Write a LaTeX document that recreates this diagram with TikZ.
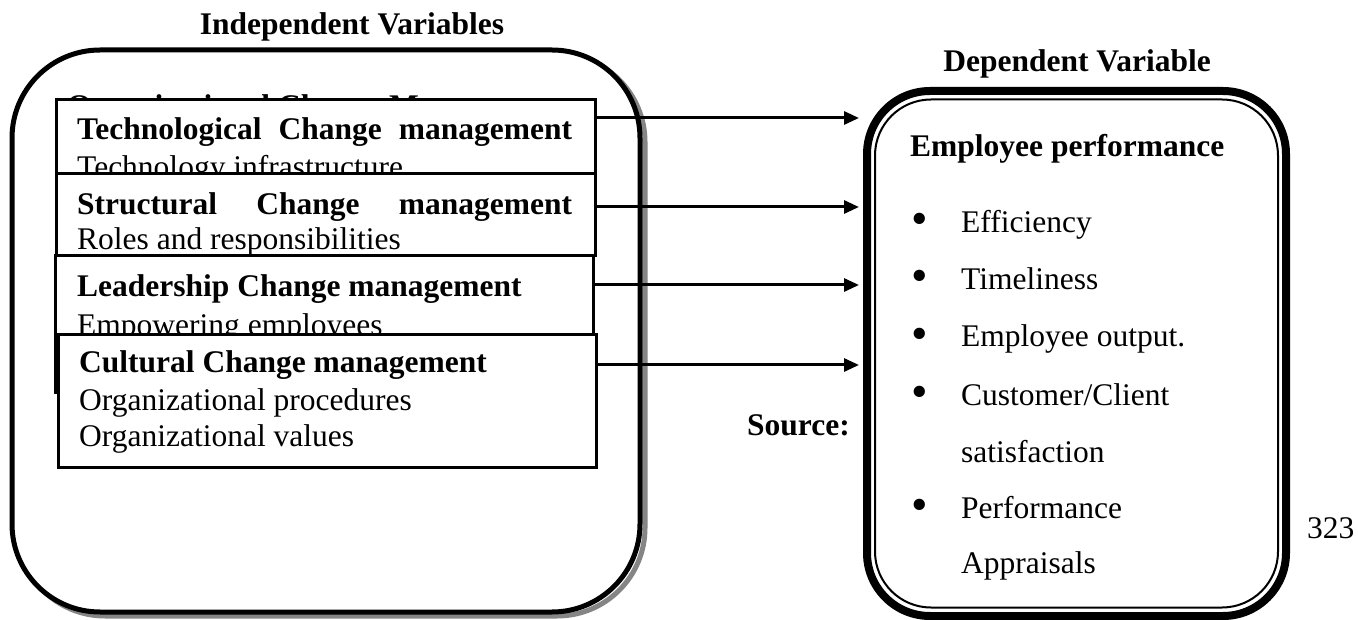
\documentclass[tikz,border=0pt]{standalone}
\usepackage{fontspec}
\setmainfont{Liberation Serif}
\usetikzlibrary{arrows.meta}
\definecolor{shadowgray}{HTML}{858585}
\begin{document}
\begin{tikzpicture}[x=1pt,y=-1pt,
  font=\fontsize{31.5}{36}\selectfont,
  bigbox/.style={line width=5pt, rounded corners=88pt, minimum width=628pt, minimum height=562pt, inner sep=0pt},
  varbox/.style={draw, fill=white, line width=3pt, inner sep=0pt},
  txt/.style={inner sep=0pt, anchor=base west},
  ttl/.style={inner sep=0pt, anchor=base, font=\fontsize{31.5}{36}\selectfont\bfseries},
  bul/.style={inner sep=0pt, anchor=base},
  link/.style={line width=3pt, -{Triangle[length=15pt,width=13pt]}, shorten >=4pt}]
\useasboundingbox (0,0) rectangle (1358,620);
\fill[white] (0,0) rectangle (1358,620);

% titles
\node[ttl] (indtitle) at (352,35) {Independent Variables};
\node[ttl] (deptitle) at (1077,72) {Dependent Variable};

% independent variables frame with shadow
\node[bigbox, draw=shadowgray] (indshadow) at (331,335) {};
\node[bigbox, draw, fill=white] (ind) at (326,331) {};

% partly hidden heading
\node[txt, font=\fontsize{31.5}{36}\selectfont\bfseries] (hidden) at (67,117) {Organizational Change Management};

% box 1
\node[varbox, minimum width=539pt, minimum height=74pt] (b1) at (325.5,137) {};
\node[txt] (b1h) at (77,140) {\makebox[495pt][s]{\bfseries Technological Change management}};
\node[txt] (b1s) at (77,178) {Technology infrastructure};

% box 2
\node[varbox, minimum width=539pt, minimum height=82pt] (b2) at (325.5,215) {};
\node[txt] (b2h) at (77,215) {\makebox[495pt][s]{\bfseries Structural Change management}};
\node[txt] (b2s) at (77,250) {Roles and responsibilities};

% box 3
\node[varbox, minimum width=538pt, minimum height=136pt] (b3) at (324,324) {};
\node[txt] (b3h) at (77,297) {\bfseries Leadership Change management};
\node[txt] (b3s) at (77,336) {Empowering employees};

% box 4
\node[varbox, minimum width=538pt, minimum height=132pt] (b4) at (327,401) {};
\node[txt] (b4h) at (79,373) {\bfseries Cultural Change management};
\node[txt] (b4a) at (79,410) {Organizational procedures};
\node[txt] (b4b) at (79,446) {Organizational values};

% dependent variable frame (thick-thin double border)
\node[draw, line width=8pt, rounded corners=63pt, minimum width=419pt, minimum height=525pt, inner sep=0pt] (dep) at (1076.5,353.5) {};
\node[draw, line width=2pt, rounded corners=56pt, minimum width=403pt, minimum height=508pt, inner sep=0pt] (depin) at (dep.center) {};

\node[txt, font=\fontsize{31.5}{36}\selectfont\bfseries] (perf) at (910,157) {Employee performance};
\node[bul] (d1) at (920,233) {\raisebox{-2pt}{\scalebox{1.5}{\textbullet}}};
\node[bul] (d2) at (920,290) {\raisebox{-2pt}{\scalebox{1.5}{\textbullet}}};
\node[bul] (d3) at (920,347) {\raisebox{-2pt}{\scalebox{1.5}{\textbullet}}};
\node[bul] (d4) at (920,405) {\raisebox{-2pt}{\scalebox{1.5}{\textbullet}}};
\node[bul] (d5) at (920,518) {\raisebox{-2pt}{\scalebox{1.5}{\textbullet}}};
\node[txt] (i1) at (961,233) {Efficiency};
\node[txt] (i2) at (961,290) {Timeliness};
\node[txt] (i3) at (961,347) {Employee output.};
\node[txt] (i4) at (961,405) {Customer/Client};
\node[txt] (i4b) at (961,462) {satisfaction};
\node[txt] (i5) at (961,518) {Performance};
\node[txt] (i5b) at (961,573) {Appraisals};

\node[txt, font=\fontsize{31.5}{36}\selectfont\bfseries] (source) at (747,435) {Source:};
\node[txt] (page) at (1307,538) {323};

% arrows
\draw[link] ([yshift=19pt]b1.east) -- ([yshift=19pt]b1.east -| dep.west);
\draw[link] ([yshift=8pt]b2.east) -- ([yshift=8pt]b2.east -| dep.west);
\draw[link] ([yshift=39pt]b3.east) -- ([yshift=39pt]b3.east -| dep.west);
\draw[link] ([yshift=36pt]b4.east) -- ([yshift=36pt]b4.east -| dep.west);
\end{tikzpicture}
\end{document}
